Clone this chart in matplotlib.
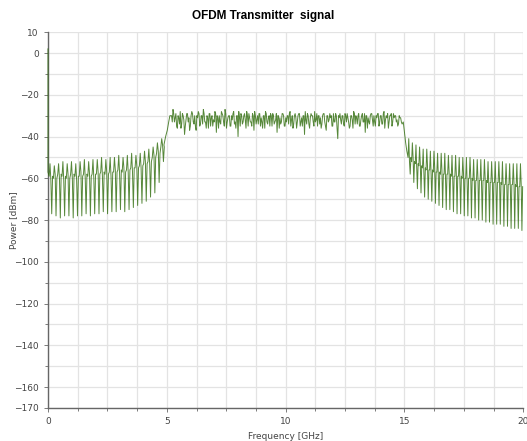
import numpy as np
import matplotlib
matplotlib.use("Agg")
import matplotlib.pyplot as plt

# ---- data ----
dc_level = 2.0  # spike at 0 GHz (dBm)

# left sideband (0 - 4.9 GHz), per comb line
tops_L = [-53,-54,-53,-52,-53,-52,-53,-52,-51,-52,-51,-51,-50,-51,-50,-50,-49,-50,-49,-48,-49,-48,-47,-46,-45,-43,-41]
mids_L = [-59,-60,-58,-59,-60,-58,-59,-59,-58,-59,-58,-58,-57,-58,-57,-57,-56,-57,-56,-55,-55,-54,-53,-52,-50,-48,-45]
mids2_L = [-61,-58,-60,-61,-58,-60,-61,-57,-60,-58,-60,-57,-59,-57,-59,-56,-58,-55,-57,-57,-54,-55,-52,-53,-49,-47,-44]
bots_L = [-77,-78,-79,-78,-78,-79,-78,-78,-77,-78,-77,-77,-76,-77,-76,-76,-75,-76,-75,-74,-73,-72,-71,-69,-67,-62,-52]

# rising edge near 5 GHz
edge_up_f = [4.88, 4.95, 5.02, 5.08, 5.13]
edge_up_v = [-44, -40, -37, -33, -30]

# in-band OFDM spectrum (5.2 - 14.9 GHz), two interleaved sample sets
band = [
-30,-27,-33,-29,-36,-31,-28,-34,-30,-39,-32,-29,-31,-35,-28,-33,-30,-37,-31,-29,
-34,-30,-27,-33,-36,-31,-29,-35,-30,-32,-28,-38,-31,-30,-34,-29,-33,-27,-36,-31,
-30,-35,-32,-28,-33,-30,-40,-31,-29,-34,-30,-32,-28,-35,-31,-33,-29,-37,-30,-32,
-34,-29,-31,-36,-30,-28,-33,-31,-35,-30,-29,-34,-32,-38,-30,-31,-33,-29,-35,-31,
-30,-34,-28,-32,-36,-30,-31,-33,-29,-35,-31,-30,-39,-32,-29,-34,-31,-30,-33,-28,
-32,-35,-30,-31,-34,-29,-33,-37,-30,-32,-31,-35,-29,-33,-30,-41,-31,-32,-30,-34,
-29,-33,-31,-36,-30,-32,-28,-34,-31,-30,-35,-32,-29,-33,-38,-30,-31,-34,-29,-32,
-30,-35,-31,-29,-33,-30,-34,-28,-32,-31,-36,-30,-29,-33,-31,-30,-32,-34,-31,-33]
band2 = [
-33,-29,-31,-35,-30,-34,-36,-29,-32,-35,-29,-33,-37,-30,-29,-34,-35,-30,-28,-35,
-30,-34,-29,-33,-30,-36,-29,-31,-35,-33,-29,-30,-36,-33,-28,-30,-35,-29,-33,-30,
-35,-30,-29,-34,-36,-30,-28,-35,-30,-33,-29,-36,-30,-29,-33,-35,-30,-28,-34,-30,
-29,-35,-33,-30,-36,-29,-34,-30,-29,-35,-30,-33,-29,-30,-36,-34,-29,-30,-35,-33,
-30,-29,-35,-30,-34,-29,-36,-30,-29,-33,-35,-30,-28,-34,-30,-36,-29,-30,-35,-33,
-29,-30,-34,-36,-30,-29,-35,-30,-33,-29,-30,-35,-33,-29,-36,-30,-29,-34,-30,-35,
-30,-29,-33,-35,-30,-36,-29,-30,-34,-29,-35,-30,-33,-29,-30,-36,-33,-30,-29,-35,
-33,-30,-29,-35,-30,-34,-29,-36,-30,-29,-33,-30,-35,-29,-30,-33,-35,-30,-31,-34]

# falling edge near 15 GHz
edge_dn_f = [14.95, 15.0, 15.05, 15.1]
edge_dn_v = [-33, -38, -43, -47]

# right sideband (15.15 - 20 GHz), per comb line
tops_R = [-41,-43,-44,-45,-46,-46,-47,-47,-48,-48,-48,-49,-49,-49,-50,-50,-50,-50,-51,-51,-51,-51,-52,-52,-52,-52,-52,-53,-53,-53,-53,-53]
mids_R = [-50,-52,-53,-54,-55,-56,-56,-57,-57,-58,-58,-58,-59,-59,-59,-60,-60,-60,-61,-61,-61,-61,-62,-62,-62,-62,-63,-63,-63,-63,-64,-64]
mids2_R = [-52,-50,-55,-53,-57,-54,-58,-55,-59,-56,-60,-57,-60,-58,-61,-58,-62,-59,-62,-60,-63,-60,-63,-61,-64,-61,-64,-62,-65,-62,-65,-63]
bots_R = [-58,-62,-65,-67,-69,-70,-71,-72,-73,-74,-75,-75,-76,-77,-77,-78,-78,-79,-79,-80,-80,-81,-81,-82,-82,-82,-83,-83,-84,-84,-84,-85]

y_ticks = [10, 0, -20, -40, -60, -80, -100, -120, -140, -160, -170]
x_ticks = [0, 5, 10, 15, 20]


def comb(f0, f1, tops, mids, mids2, bots):
    n = len(tops)
    centers = np.linspace(f0, f1, n)
    d = (f1 - f0) / (n - 1)
    fs, vs = [], []
    for c, t, m, m2, b in zip(centers, tops, mids, mids2, bots):
        fs += [c, c + d * 0.2, c + d * 0.4, c + d * 0.6, c + d * 0.8]
        vs += [m, t, m2, b, m]
    return fs, vs


fL, vL = comb(0.05, 4.75, tops_L, mids_L, mids2_L, bots_L)
fR, vR = comb(15.15, 19.85, tops_R, mids_R, mids2_R, bots_R)
band_all = [v for pair in zip(band, band2) for v in pair]
fB = list(np.linspace(5.2, 14.9, len(band_all)))

freq = [0.0, 0.0] + fL + edge_up_f + fB + edge_dn_f + fR
power = [dc_level, -57] + vL + edge_up_v + band_all + edge_dn_v + vR

fig = plt.figure(figsize=(5.27, 4.41), dpi=100)
ax = fig.add_axes([0.091, 0.075, 0.902, 0.852])

ax.plot(freq, power, color="#2c6a08", lw=0.7, alpha=0.8, zorder=3, clip_on=False)

ax.set_xlim(0, 20)
ax.set_ylim(-170, 10)
ax.set_xticks(x_ticks)
ax.set_yticks(y_ticks)
ax.set_xticks(np.arange(0, 20.01, 1.25), minor=True)
ax.set_yticks(np.arange(-170, 10.01, 10), minor=True)
ax.grid(which="both", color="#e3e3e3", lw=0.9)
ax.set_axisbelow(True)

for s in ["top", "right"]:
    ax.spines[s].set_visible(False)
for s in ["left", "bottom"]:
    ax.spines[s].set_color("#666666")
    ax.spines[s].set_linewidth(1.0)

ax.tick_params(which="both", colors="#666666", labelcolor="#444444", labelsize=6.5,
               length=3, width=0.6, direction="out")
ax.tick_params(which="minor", length=2)

fig.text(0.5, 0.963, "OFDM Transmitter  signal", fontsize=8.5, fontweight="bold",
         family="Liberation Sans", ha="center", va="center")
ax.set_xlabel("Frequency [GHz]", fontsize=6.5, color="#444444", labelpad=4)
ax.set_ylabel("Power [dBm]", fontsize=6.5, color="#444444")
ax.yaxis.set_label_coords(-0.062, 0.5)

fig.savefig("out.png", dpi=100)
